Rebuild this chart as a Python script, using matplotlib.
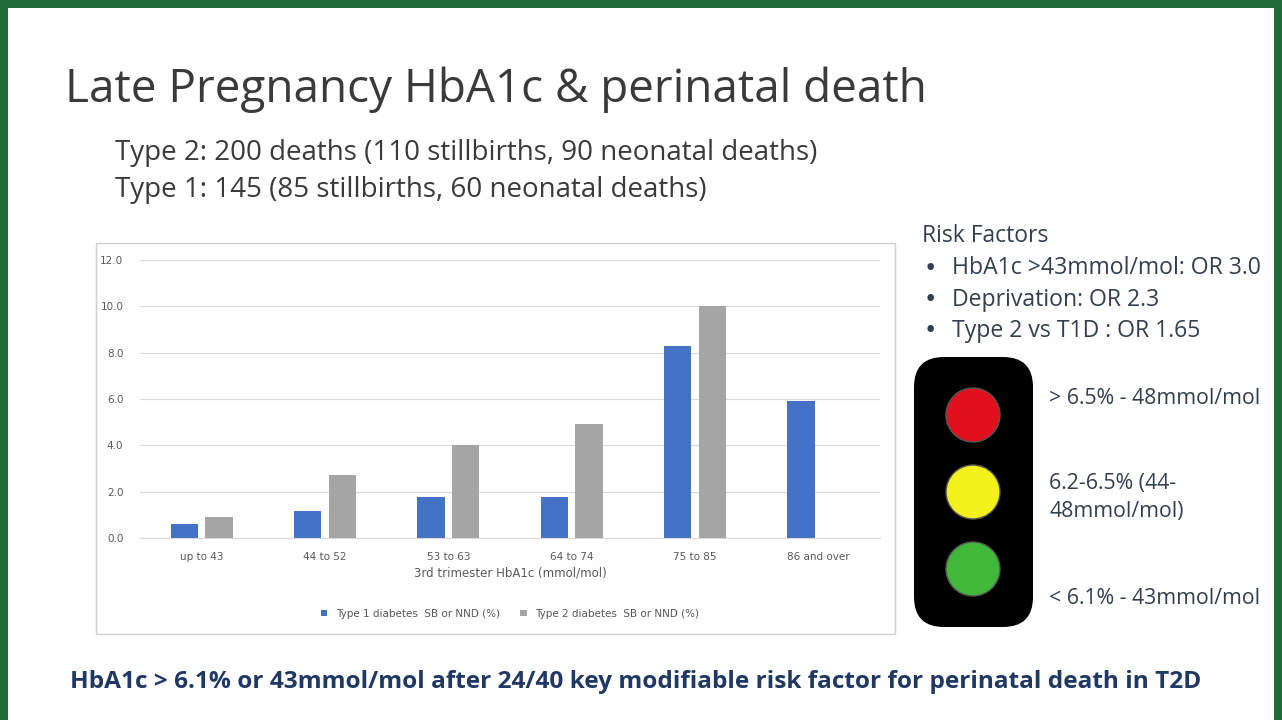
import matplotlib
matplotlib.use("Agg")
import matplotlib.pyplot as plt
from matplotlib.patches import FancyBboxPatch, Rectangle, Circle
import numpy as np

categories = ["up to 43", "44 to 52", "53 to 63", "64 to 74", "75 to 85", "86 and over"]
type1 = [0.6, 1.15, 1.75, 1.75, 8.3, 5.9]
type2 = [0.9, 2.7, 4.0, 4.9, 10.0, np.nan]
yticks = [0.0, 2.0, 4.0, 6.0, 8.0, 10.0, 12.0]

W, H = 1282, 720
fig = plt.figure(figsize=(W/100, H/100), dpi=100)
fig.patch.set_facecolor("#1f6b3a")
bg = fig.add_axes([0, 0, 1, 1]); bg.set_xlim(0, W); bg.set_ylim(H, 0); bg.axis("off")
bg.add_patch(Rectangle((8, 8), W-16, H-8, facecolor="white", edgecolor="none"))
txt = "#333f4f"
bg.text(65, 90, "Late Pregnancy HbA1c & perinatal death", fontsize=33, color="#3a3a3a", va="center", family="Open Sans")
bg.text(115, 153, "Type 2: 200 deaths (110 stillbirths, 90 neonatal deaths)", fontsize=20, color="#3a3a3a", va="center", family="Open Sans")
bg.text(115, 190, "Type 1: 145 (85 stillbirths, 60 neonatal deaths)", fontsize=20, color="#3a3a3a", va="center", family="Open Sans")
bg.text(922, 236, "Risk Factors", fontsize=16.5, color=txt, va="center", family="Open Sans")
for i, s in enumerate(["HbA1c >43mmol/mol: OR 3.0", "Deprivation: OR 2.3", "Type 2 vs T1D : OR 1.65"]):
    y = 268 + i*31.5
    bg.text(924, y, "•", fontsize=16.5, color=txt, va="center")
    bg.text(952, y, s, fontsize=16.6, color=txt, va="center", family="Open Sans")
bg.add_patch(FancyBboxPatch((924, 367), 99, 250, boxstyle="round,pad=10,rounding_size=30", facecolor="black", edgecolor="none"))
for y, c in [(415, "#e0101e"), (492, "#f2f21a"), (569, "#40b83a")]:
    bg.add_patch(Circle((973, y), 27, facecolor=c, edgecolor="#555", lw=1))
fs = 15.3
bg.text(1049, 398, "> 6.5% - 48mmol/mol", fontsize=fs, color=txt, va="center", family="Open Sans")
bg.text(1049, 484, "6.2-6.5% (44-", fontsize=fs, color=txt, va="center", family="Open Sans")
bg.text(1049, 512, "48mmol/mol)", fontsize=fs, color=txt, va="center", family="Open Sans")
bg.text(1049, 598, "< 6.1% - 43mmol/mol", fontsize=fs, color=txt, va="center", family="Open Sans")
bg.text(636, 682, "HbA1c > 6.1% or 43mmol/mol after 24/40 key modifiable risk factor for perinatal death in T2D",
        fontsize=17.6, color="#1f3864", weight="bold", ha="center", va="center", family="Open Sans")
bg.add_patch(Rectangle((96, 243), 799, 391, facecolor="white", edgecolor="#d0d0d0", lw=1))

ax = fig.add_axes([140/W, 1-538/H, (880-140)/W, (538-260)/H])
x = np.arange(len(categories))
w = 0.22
ax.bar(x-0.14, type1, w, color="#4472c4", label="Type 1 diabetes  SB or NND (%)")
ax.bar(x+0.14, type2, w, color="#a5a5a5", label="Type 2 diabetes  SB or NND (%)")
ax.set_xlim(-0.5, len(categories)-0.5); ax.set_ylim(0, 12)
ax.set_yticks(yticks); ax.set_yticklabels([f"{v:.1f}" for v in yticks], fontsize=7.5, color="#595959")
ax.set_xticks(x); ax.set_xticklabels(categories, fontsize=7.5, color="#595959")
ax.yaxis.grid(True, color="#d9d9d9", lw=0.8); ax.set_axisbelow(True)
for s in ["top", "right", "left"]: ax.spines[s].set_visible(False)
ax.spines["bottom"].set_color("#d9d9d9")
ax.tick_params(axis="x", length=0, pad=10)
ax.tick_params(axis="y", length=0, pad=12)
ax.set_xlabel("3rd trimester HbA1c (mmol/mol)", fontsize=8.5, color="#595959", labelpad=3)
ax.legend(loc="upper center", bbox_to_anchor=(0.5, -0.22), ncol=2, frameon=False, fontsize=7.5,
          handlelength=0.6, handleheight=0.6, labelcolor="#595959", columnspacing=2)
fig.savefig("out.png", dpi=100, facecolor=fig.get_facecolor())
